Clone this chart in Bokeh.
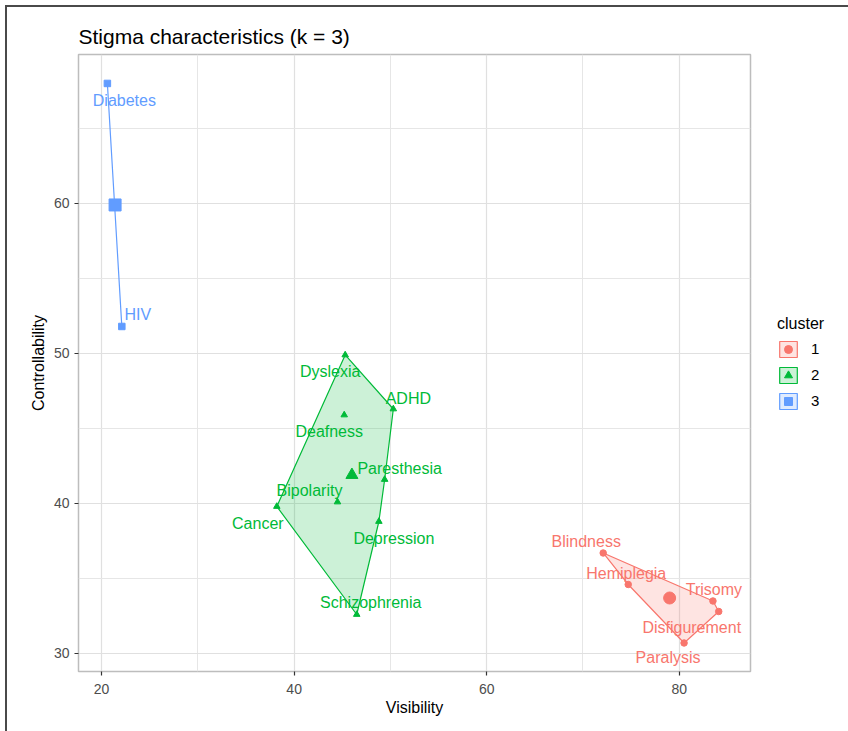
from bokeh.plotting import figure
from bokeh.models import Range1d, Legend, LegendItem, Title, FixedTicker, ColumnDataSource
from bokeh.embed import file_html
from bokeh.resources import INLINE
from bokeh.core.properties import value

FONT = "Liberation Sans"

# ---- data ----
names_1 = ["Blindness", "Hemiplegia", "Trisomy", "Disfigurement", "Paralysis"]
vis_1 = [72.1, 74.7, 83.5, 84.1, 80.5]
ctl_1 = [36.7, 34.6, 33.5, 32.8, 30.7]
center_vis_1 = [79.0]
center_ctl_1 = [33.7]

names_2 = ["Dyslexia", "ADHD", "Deafness", "Paresthesia", "Bipolarity",
           "Cancer", "Depression", "Schizophrenia"]
vis_2 = [45.3, 50.3, 45.2, 49.4, 44.5, 38.2, 48.8, 46.5]
ctl_2 = [49.9, 46.3, 45.9, 41.6, 40.1, 39.8, 38.8, 32.6]
center_vis_2 = [46.0]
center_ctl_2 = [41.9]

names_3 = ["Diabetes", "HIV"]
vis_3 = [20.6, 22.1]
ctl_3 = [68.0, 51.8]
center_vis_3 = [21.4]
center_ctl_3 = [59.9]

x_ticks = [20, 40, 60, 80]
x_minor = [30, 50, 70]
y_ticks = [30, 40, 50, 60]
y_minor = [35, 45, 55, 65]
cluster_labels = ["1", "2", "3"]

# ---- label offsets in screen pixels (style) ----
off_1 = [(-17, -11), (-2, -11), (1, -11), (-27, 16), (-16, 15)]
off_2 = [(-15, 17), (15, -10), (-15, 17), (15, -11), (-28, -11),
         (-19, 17), (15, 17), (14, -12)]
off_3 = [(17, 17), (16, -12)]

colors = ["#F8766D", "#00BA38", "#619CFF"]
markers = ["circle", "triangle", "square"]


def hull(xs, ys):
    pts = sorted(set(zip(xs, ys)))
    if len(pts) <= 2:
        return [p[0] for p in pts], [p[1] for p in pts]

    def cross(o, a, b):
        return (a[0] - o[0]) * (b[1] - o[1]) - (a[1] - o[1]) * (b[0] - o[0])
    lower, upper = [], []
    for p in pts:
        while len(lower) >= 2 and cross(lower[-2], lower[-1], p) <= 0:
            lower.pop()
        lower.append(p)
    for p in reversed(pts):
        while len(upper) >= 2 and cross(upper[-2], upper[-1], p) <= 0:
            upper.pop()
        upper.append(p)
    h = lower[:-1] + upper[:-1]
    return [p[0] for p in h], [p[1] for p in h]


p = figure(output_backend="svg", toolbar_location=None,
           frame_width=672, frame_height=617,
           min_border_left=78, min_border_right=98,
           min_border_top=54, min_border_bottom=60,
           x_range=Range1d(17.6, 87.4), y_range=Range1d(28.8, 69.93))
p.title = None
p.add_layout(Title(text="Stigma characteristics (k = 3)", text_font=FONT,
                   text_font_size="21px", text_font_style="normal",
                   text_color="#000000", standoff=13, offset=0), "above")

p.background_fill_color = "white"
p.border_fill_color = None
p.styles = {
    "background": ("linear-gradient(#4a4a4a, #4a4a4a) 5px 5px / 2px 100% no-repeat, "
                   "linear-gradient(#4a4a4a, #4a4a4a) 5px 5px / 100% 2px no-repeat, "
                   "#ffffff"),
}
p.outline_line_color = "#bdbdbd"
p.outline_line_width = 1.5

p.xaxis.ticker = FixedTicker(ticks=x_ticks, minor_ticks=x_minor)
p.yaxis.ticker = FixedTicker(ticks=y_ticks, minor_ticks=y_minor)
for ax in (p.xaxis, p.yaxis):
    ax.axis_line_color = None
    ax.major_tick_in = 0
    ax.major_tick_out = 4
    ax.major_tick_line_color = "#333333"
    ax.major_tick_line_width = 1.2
    ax.minor_tick_line_color = None
    ax.major_label_text_font = FONT
    ax.major_label_text_font_size = "14px"
    ax.major_label_text_color = "#4d4d4d"
    ax.axis_label_text_font = FONT
    ax.axis_label_text_font_size = "16px"
    ax.axis_label_text_font_style = "normal"
    ax.axis_label_text_color = "#000000"
p.xaxis.axis_label = "Visibility"
p.yaxis.axis_label = "Controllability"
p.xaxis.major_label_standoff = 8
p.yaxis.major_label_standoff = 5
p.xaxis.axis_label_standoff = 2
p.yaxis.axis_label_standoff = 4

for g in (p.xgrid, p.ygrid):
    g.grid_line_color = "#e0e0e0"
    g.grid_line_width = 1.2
    g.minor_grid_line_color = "#e6e6e6"
    g.minor_grid_line_width = 1.0

clusters = [
    (names_1, vis_1, ctl_1, center_vis_1, center_ctl_1, off_1),
    (names_2, vis_2, ctl_2, center_vis_2, center_ctl_2, off_2),
    (names_3, vis_3, ctl_3, center_vis_3, center_ctl_3, off_3),
]

items = []
for i, (nm, xs, ys, cx, cy, off) in enumerate(clusters):
    col = colors[i]
    hx, hy = hull(xs, ys)
    patch_r = p.patch(hx, hy, fill_color=col, fill_alpha=0.2,
                      line_color=col, line_width=1.2)
    src = ColumnDataSource(dict(x=xs, y=ys, name=nm,
                                dx=[o[0] for o in off], dy=[o[1] for o in off]))
    pts_r = p.scatter("x", "y", source=src, marker=markers[i], size=6.5,
                      fill_color=col, line_color=col)
    p.scatter(cx, cy, marker=markers[i], size=12, fill_color=col, line_color=col)
    p.text("x", "y", text="name", source=src, x_offset="dx", y_offset="dy",
           text_color=col, text_font=value(FONT), text_font_size="16px",
           text_align="center", text_baseline="middle")
    items.append(LegendItem(label=cluster_labels[i], renderers=[patch_r, pts_r]))

legend = Legend(items=items, location="center_left", orientation="vertical",
                title="cluster", title_text_font=FONT, title_text_font_size="16px",
                title_text_font_style="normal", title_text_color="#000000",
                title_standoff=6,
                label_text_font=FONT, label_text_font_size="15px",
                label_text_color="#000000",
                glyph_width=22, glyph_height=20, label_height=20,
                label_standoff=12, spacing=6, padding=0, margin=27,
                border_line_color=None, background_fill_alpha=0)
p.add_layout(legend, "right")

open("out.html", "w").write(file_html(p, INLINE))
